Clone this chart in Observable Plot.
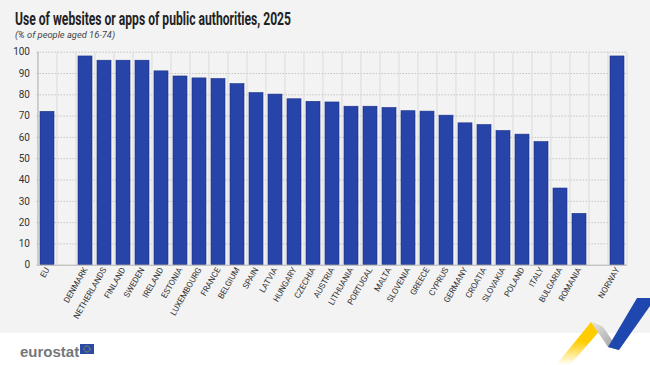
<!DOCTYPE html>
<html><head><meta charset="utf-8">
<script src="https://cdn.jsdelivr.net/npm/d3@7"></script>
<script src="https://cdn.jsdelivr.net/npm/@observablehq/plot@0.6"></script>
<style>
html,body{margin:0;padding:0;}
body{width:650px;height:365px;background:#f3f3f3;position:relative;overflow:hidden;
  font-family:Roboto,"Liberation Sans",sans-serif;}
#head{height:44px;position:relative}
#title{position:absolute;left:15px;top:8px;font-size:18px;font-weight:bold;color:#222;white-space:nowrap;transform-origin:0 0;font-family:Roboto,sans-serif}
#sub{position:absolute;left:15px;top:29px;font-size:9.5px;font-style:italic;color:#444;white-space:nowrap;transform-origin:0 0}
#chart{position:relative}
#foot{position:absolute;left:0;top:333px;width:650px;height:32px;background:#fff}
#deco{position:absolute;left:0;top:0;pointer-events:none}
</style></head>
<body>
<div id="head"><div id="title">Use of websites or apps of public authorities, 2025</div>
<div id="sub">(% of people aged 16-74)</div></div>
<div id="chart"></div>
<div id="foot"></div>
<svg id="deco" width="650" height="365">
  <defs>
    <linearGradient id="yg" x1="0" y1="1" x2="0" y2="0">
      <stop offset="0" stop-color="#ffcc00" stop-opacity="0"/>
      <stop offset="0.55" stop-color="#ffcc00" stop-opacity="1"/>
    </linearGradient>
    <linearGradient id="gg" x1="0" y1="0" x2="1" y2="1">
      <stop offset="0" stop-color="#e6e6e6"/>
      <stop offset="1" stop-color="#9a9a9a"/>
    </linearGradient>
  </defs>
  <text x="20" y="357" font-family="'Liberation Sans', Arial, sans-serif" font-size="15" font-weight="bold" fill="#75777a">eurostat</text>
  <rect x="80" y="344" width="14" height="10" fill="#2a4ba8"/>
  <circle cx="87" cy="349" r="3" fill="none" stroke="#ffcc00" stroke-width="0.8" stroke-dasharray="0.8,0.8"/>
  <polygon points="556,365 570,365 603,327 591,322" fill="url(#yg)"/>
  <polygon points="591,322 603,327 619,350 608,347" fill="url(#gg)"/>
  <polygon points="608,347 619,350 650,306 650,298 637,298" fill="#1f47b0"/>
</svg>
<script>
const aggregates = ["EU"];
const countries = ["DENMARK","NETHERLANDS","FINLAND","SWEDEN","IRELAND","ESTONIA","LUXEMBOURG","FRANCE","BELGIUM","SPAIN","LATVIA","HUNGARY","CZECHIA","AUSTRIA","LITHUANIA","PORTUGAL","MALTA","SLOVENIA","GREECE","CYPRUS","GERMANY","CROATIA","SLOVAKIA","POLAND","ITALY","BULGARIA","ROMANIA"];
const others = ["NORWAY"];
const aggregateValues = [72];
const countryValues = [98,96,96,96,91,88.6,87.7,87.4,85,80.8,80.1,77.9,76.7,76.4,74.4,74.4,73.8,72.3,72.1,70.2,66.6,65.8,63,61.3,57.8,36,24.1];
const otherValues = [98];
const yTicks = [0,10,20,30,40,50,60,70,80,90,100];

// fit title widths to the reference's condensed typeface
const fit = (id, w) => { const el = document.getElementById(id); el.style.transform = `scaleX(${w / el.offsetWidth})`; };
fit("title", 276);
fit("sub", 100);

const GAP1 = " ", GAP2 = "  ";
const slots = [...aggregates, GAP1, ...countries, GAP2, ...others];
const data = [
  ...aggregates.map((c,i)=>({c, v: aggregateValues[i]})),
  ...countries.map((c,i)=>({c, v: countryValues[i]})),
  ...others.map((c,i)=>({c, v: otherValues[i]}))
];
const W = 650, ML = 36.5, MR = 23;
const step = (W - ML - MR) / slots.length;
const font = 'Roboto,"Liberation Sans",sans-serif';

const chart = Plot.plot({
  width: W, height: 289,
  marginLeft: ML, marginRight: MR, marginTop: 7.7, marginBottom: 68.3,
  style: {background: "transparent", fontFamily: font, fontSize: "10px", color: "#444"},
  x: {domain: slots, paddingInner: 0.26, paddingOuter: 0.13, label: null, tickSize: 0,
      tickRotate: -60, tickPadding: 3, tickFormat: d => d.trim() ? d : ""},
  y: {domain: [0, 100], ticks: yTicks, label: null, tickSize: 0, tickPadding: 7},
  marks: [
    Plot.ruleY(yTicks.filter(t => t > 0), {stroke: "#c4c4c4", strokeDasharray: "1.5,1.5"}),
    Plot.ruleX(slots.slice(1), {x: d => d, dx: -step/2, stroke: "#dcdcdc"}),
    Plot.ruleX(slots.slice(-1), {x: d => d, dx: step/2, stroke: "#dcdcdc"}),
    Plot.ruleX(slots.slice(0,1), {x: d => d, dx: -step/2, stroke: "#a8a8a8"}),
    Plot.barY(data, {x: "c", y: "v", fill: "#2744a8", stroke: "#1c3187", strokeWidth: 0.6}),
    Plot.ruleY([0], {stroke: "#b0b0b0"})
  ]
});
chart.querySelectorAll('[aria-label="x-axis tick label"] text').forEach(t => { t.setAttribute("font-size", "8.3"); t.setAttribute("fill", "#333"); });
chart.querySelectorAll('[aria-label="y-axis tick label"] text').forEach(t => t.setAttribute("fill", "#333"));
document.getElementById("chart").appendChild(chart);
</script>
</body></html>
